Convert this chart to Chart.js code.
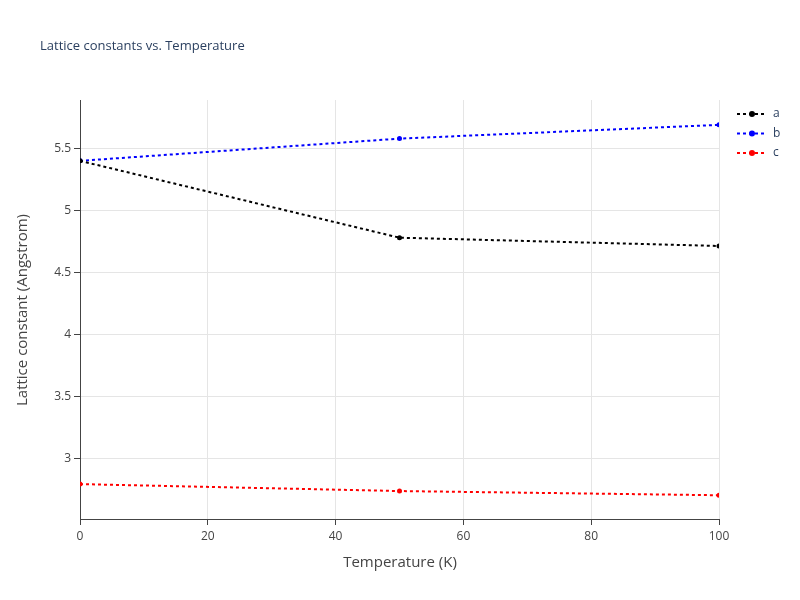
<!DOCTYPE html>
<html>
<head>
<meta charset="utf-8">
<script src="https://cdn.jsdelivr.net/npm/chart.js@4/dist/chart.umd.min.js"></script>
<style>body{margin:0;background:#fff}</style>
</head>
<body>
<canvas id="c" width="800" height="600"></canvas>
<script>
const temps = [0, 50, 100];
const aVals = [5.403, 4.782, 4.715];
const bVals = [5.403, 5.583, 5.694];
const cVals = [2.790, 2.734, 2.700];
const seriesNames = ['a', 'b', 'c'];
const seriesColors = ['#000000', '#0000ff', '#ff0000'];

const toPts = (vals) => vals.map((v, i) => ({ x: temps[i], y: v }));

const datasets = [aVals, bVals, cVals].map((vals, i) => ({
  label: seriesNames[i],
  data: toPts(vals),
  borderColor: seriesColors[i],
  backgroundColor: seriesColors[i],
  borderWidth: 2,
  borderDash: [3, 3],
  pointRadius: 2.5,
  pointBorderWidth: 0,
  pointHoverRadius: 2.5,
  tension: 0
}));

// title, axis titles + legend drawn like plotly's
const extras = {
  id: 'extras',
  afterDraw(chart) {
    const ctx = chart.ctx;
    ctx.save();
    ctx.fillStyle = '#2a3f5f';
    ctx.font = '13px "Open Sans", sans-serif';
    ctx.textBaseline = 'middle';
    ctx.fillText('Lattice constants vs. Temperature', 40, 46);
    ctx.fillStyle = '#444';
    ctx.font = '15px "Open Sans", sans-serif';
    ctx.textAlign = 'center';
    ctx.fillText('Temperature (K)', 400, 563);
    ctx.save();
    ctx.translate(23, 310);
    ctx.rotate(-Math.PI / 2);
    ctx.fillText('Lattice constant (Angstrom)', 0, 0);
    ctx.restore();
    ctx.textAlign = 'left';
    seriesNames.forEach((n, i) => {
      const y = 114 + i * 19.5;
      ctx.strokeStyle = seriesColors[i];
      ctx.lineWidth = 2;
      ctx.setLineDash([3, 3]);
      ctx.beginPath(); ctx.moveTo(737, y); ctx.lineTo(767, y); ctx.stroke();
      ctx.setLineDash([]);
      ctx.fillStyle = seriesColors[i];
      ctx.beginPath(); ctx.arc(752, y, 3, 0, Math.PI * 2); ctx.fill();
      ctx.fillStyle = '#2a3f5f';
      ctx.font = '12px "Open Sans", sans-serif';
      ctx.fillText(n, 773, y);
    });
    ctx.restore();
  }
};

new Chart(document.getElementById('c'), {
  type: 'line',
  data: { datasets },
  options: {
    responsive: false,
    animation: false,
    layout: { padding: { top: 100, right: 81, left: 0, bottom: 0 } },
    plugins: { legend: { display: false }, tooltip: { enabled: false } },
    scales: {
      x: {
        type: 'linear', min: 0, max: 100,
        afterFit: (s) => { s.height = 81; },
        ticks: { stepSize: 20, color: '#444', padding: 4, font: { size: 12, family: '"Open Sans", sans-serif' } },
        grid: { color: '#e5e5e5', tickLength: 6, tickColor: '#444' },
        border: { color: '#444' }
      },
      y: {
        min: 2.508, max: 5.895,
        afterFit: (s) => { s.width = 80; },
        afterBuildTicks: (s) => { s.ticks = [3, 3.5, 4, 4.5, 5, 5.5].map(v => ({ value: v })); },
        ticks: { color: '#444', font: { size: 12, family: '"Open Sans", sans-serif' }, callback: (v) => String(v) },
        grid: { color: '#e5e5e5', tickLength: 6, tickColor: '#444' },
        border: { color: '#444' }
      }
    }
  },
  plugins: [extras]
});
</script>
</body>
</html>
